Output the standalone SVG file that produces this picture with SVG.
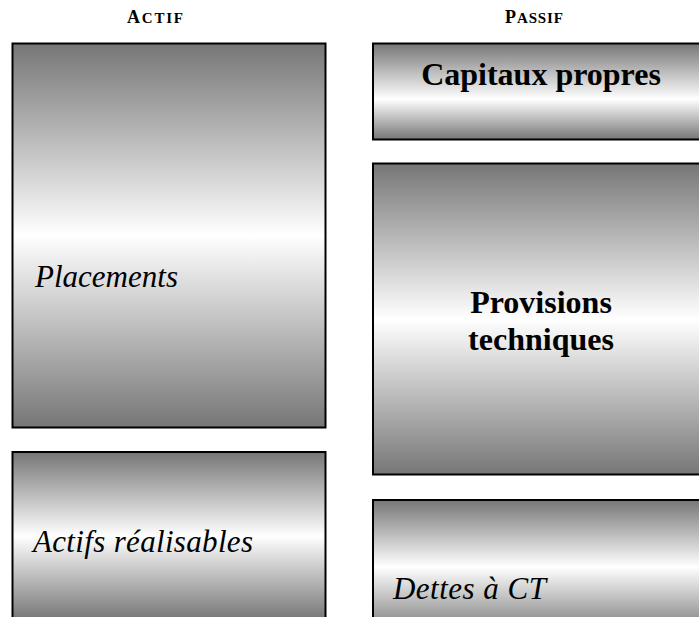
<svg xmlns="http://www.w3.org/2000/svg" width="699" height="617" viewBox="0 0 699 617">
<style>
.box{stroke:#000;stroke-width:2}
.hdr{font-family:"Liberation Serif","Times New Roman",serif;font-weight:bold;fill:#000}
.it{font-family:"Liberation Serif","Times New Roman",serif;font-style:italic;font-size:31px;fill:#000}
.bd{font-family:"Liberation Serif","Times New Roman",serif;font-weight:bold;font-size:32px;fill:#000;text-anchor:middle}
</style>
<defs>
<linearGradient id="g" x1="0" y1="0" x2="0" y2="1">
<stop offset="0" stop-color="#767676"/>
<stop offset="0.5" stop-color="#ffffff"/>
<stop offset="1" stop-color="#767676"/>
</linearGradient>
<linearGradient id="g2" x1="0" y1="0" x2="0" y2="1">
<stop offset="0" stop-color="#767676"/>
<stop offset="0.58" stop-color="#ffffff"/>
<stop offset="1" stop-color="#767676"/>
</linearGradient>
</defs>
<g id="headers">
<text class="hdr" x="127" y="23" textLength="56" lengthAdjust="spacing"><tspan font-size="18">A</tspan><tspan font-size="15">CTIF</tspan></text>
<text class="hdr" x="505" y="23" textLength="58" lengthAdjust="spacing"><tspan font-size="18">P</tspan><tspan font-size="15">ASSIF</tspan></text>
</g>
<g id="placements">
<rect class="box" x="12.5" y="43.5" width="313" height="384" fill="url(#g)"/>
<text class="it" x="35" y="287" textLength="143" lengthAdjust="spacing">Placements</text>
</g>
<g id="actifs-realisables">
<rect class="box" x="12.5" y="452" width="313" height="168" fill="url(#g)"/>
<text class="it" x="33" y="552" textLength="220" lengthAdjust="spacing">Actifs réalisables</text>
</g>
<g id="capitaux-propres">
<rect class="box" x="373" y="43.5" width="340" height="96" fill="url(#g2)"/>
<text class="bd" x="541" y="85">Capitaux propres</text>
</g>
<g id="provisions-techniques">
<rect class="box" x="373" y="163.5" width="340" height="311" fill="url(#g)"/>
<text class="bd" x="541" y="313">Provisions</text>
<text class="bd" x="541" y="350">techniques</text>
</g>
<g id="dettes-ct">
<rect class="box" x="373" y="500" width="340" height="134" fill="url(#g)"/>
<text class="it" x="393" y="599" textLength="153" lengthAdjust="spacing">Dettes à CT</text>
</g>
<g id="connectors"></g>
</svg>
